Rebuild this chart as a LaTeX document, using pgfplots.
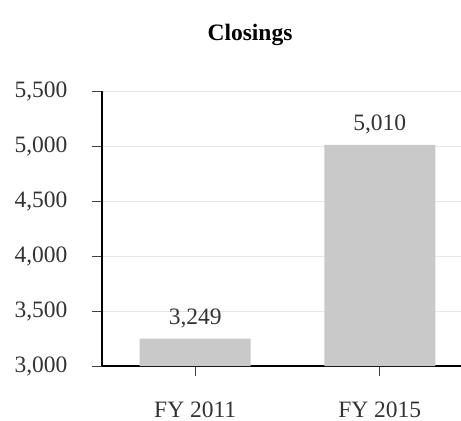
\documentclass[border=0pt]{standalone}
\usepackage{fontspec}
\setmainfont{Liberation Serif}
\usepackage{pgfplots}
\pgfplotsset{compat=1.18}
\definecolor{barg}{HTML}{C9C9C9}
\definecolor{gridg}{HTML}{E6E6E6}
\begin{document}
\begin{tikzpicture}
\useasboundingbox (-102bp,-55bp) rectangle (359bp,366bp);
\begin{axis}[
  scale only axis,
  width=359bp, height=275bp,
  xmin=-0.505, xmax=1.44,
  ymin=3000, ymax=5500,
  ytick={3000,3500,4000,4500,5000,5500},
  xtick={0,1},
  xticklabels={FY 2011, FY 2015},
  axis x line*=bottom,
  axis y line*=left,
  axis line style={black, line width=1.6bp, -},
  tick align=outside,
  major tick length=10bp,
  tick style={black!75, line width=1bp},
  ymajorgrids,
  grid style={gridg, line width=0.8bp},
  /pgf/number format/assume math mode=true,
  /pgf/number format/.cd, 1000 sep={,},
  /pgfplots/.cd,
  ticklabel style={font=\fontsize{23.5bp}{27bp}\selectfont, text=black!80},
  yticklabel style={xshift=-21bp},
  xticklabel style={yshift=-22bp},
  nodes near coords,
  nodes near coords style={font=\fontsize{23.5bp}{27bp}\selectfont, text=black!80, /pgf/number format/1000 sep={,}, yshift=7bp},
  clip=false,
]
\addplot[ybar, bar width=111bp, fill=barg, draw=none] coordinates {(0,3249) (1,5010)};
\end{axis}
\node[font=\bfseries\fontsize{23.5bp}{27bp}\selectfont] at (148bp,331bp) {Closings};
\end{tikzpicture}
\end{document}
